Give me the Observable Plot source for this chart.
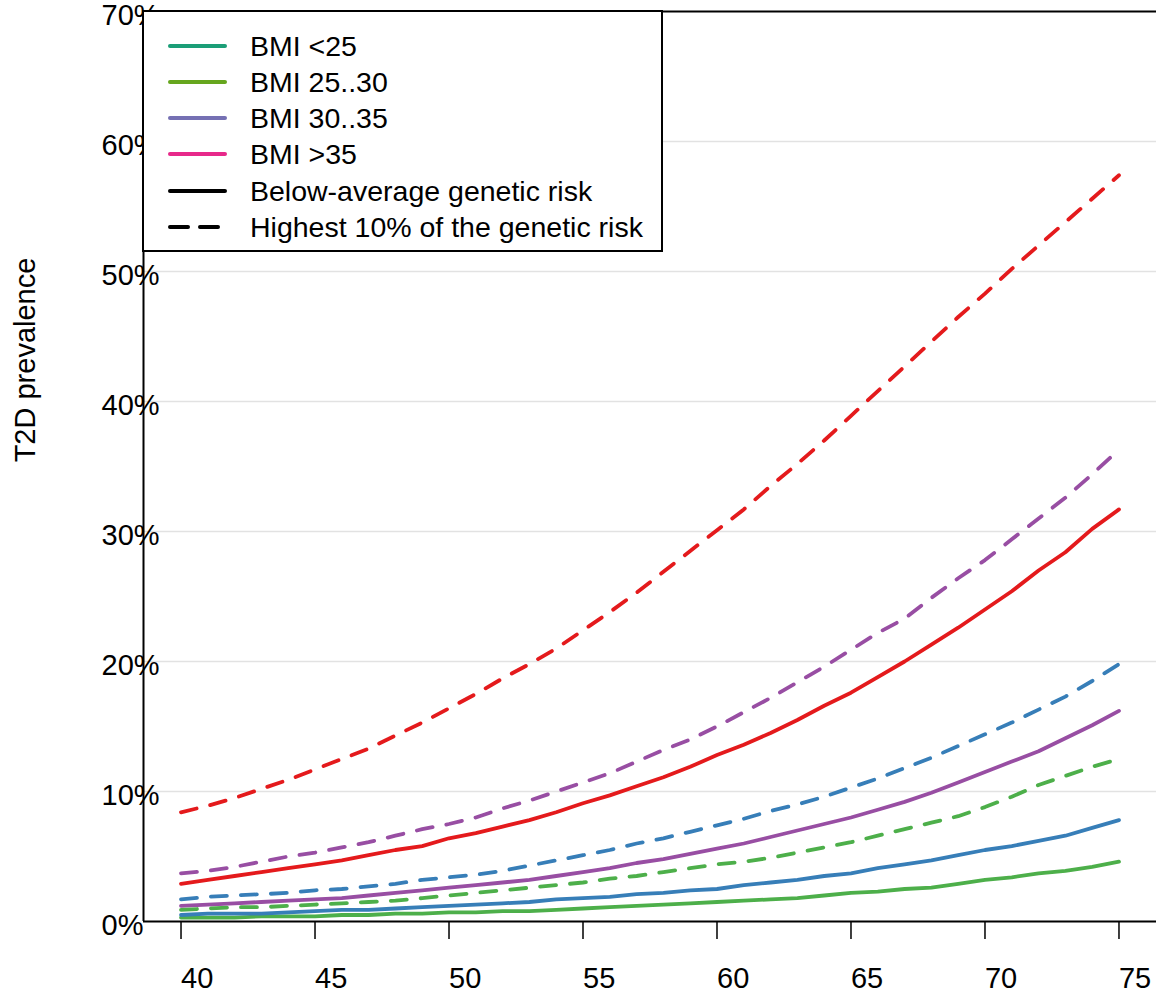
<!DOCTYPE html>
<html><head><meta charset="utf-8">
<script src="https://cdn.jsdelivr.net/npm/d3@7"></script>
<script src="https://cdn.jsdelivr.net/npm/@observablehq/plot@0.6"></script>
<style>
body{margin:0;background:#fff;font-family:"Liberation Sans",Arial,sans-serif;}
#wrap{position:relative;width:1156px;height:998px;overflow:hidden;}
#ytitle{position:absolute;left:25px;top:360px;transform:translate(-50%,-50%) rotate(-90deg);font-size:29px;white-space:nowrap;color:#000;}
#legend{position:absolute;left:142px;top:10px;width:521px;height:242px;border:2px solid #000;background:#fff;box-sizing:border-box;}
.row{position:absolute;left:0;height:36px;width:100%;}
.row svg{position:absolute;left:24px;top:0;}
.row span{position:absolute;left:106px;top:0;line-height:36px;font-size:28.5px;white-space:nowrap;color:#000;}
</style>
</head><body>
<div id="wrap">
  <div id="chart"></div>
  <div id="ytitle">T2D prevalence</div>
  <div id="legend"></div>
</div>
<script>
// ---- data ----
const ages = [40,41,42,43,44,45,46,47,48,49,50,51,52,53,54,55,56,57,58,59,60,61,62,63,64,65,66,67,68,69,70,71,72,73,74,75];
const groups = ["BMI <25","BMI 25..30","BMI 30..35","BMI >35"];
const lineColors = ["#4DAF4A","#377EB8","#984EA3","#E41A1C"];

// Below-average genetic risk (solid)
const lowBmiUnder25 = [0.3,0.3,0.3,0.4,0.4,0.4,0.5,0.5,0.6,0.6,0.7,0.7,0.8,0.8,0.9,1.0,1.1,1.2,1.3,1.4,1.5,1.6,1.7,1.8,2.0,2.2,2.3,2.5,2.6,2.9,3.2,3.4,3.7,3.9,4.2,4.6];
const lowBmi25to30 = [0.5,0.6,0.6,0.6,0.7,0.8,0.9,0.9,1.0,1.1,1.2,1.3,1.4,1.5,1.7,1.8,1.9,2.1,2.2,2.4,2.5,2.8,3.0,3.2,3.5,3.7,4.1,4.4,4.7,5.1,5.5,5.8,6.2,6.6,7.2,7.8];
const lowBmi30to35 = [1.2,1.3,1.4,1.5,1.6,1.7,1.8,2.0,2.2,2.4,2.6,2.8,3.0,3.2,3.5,3.8,4.1,4.5,4.8,5.2,5.6,6.0,6.5,7.0,7.5,8.0,8.6,9.2,9.9,10.7,11.5,12.3,13.1,14.1,15.1,16.2];
const lowBmiOver35 = [2.9,3.2,3.5,3.8,4.1,4.4,4.7,5.1,5.5,5.8,6.4,6.8,7.3,7.8,8.4,9.1,9.7,10.4,11.1,11.9,12.8,13.6,14.5,15.5,16.6,17.6,18.8,20.0,21.3,22.6,24.0,25.4,27.0,28.4,30.2,31.7];

// Highest 10% of the genetic risk (dashed)
const highBmiUnder25 = [0.9,1.0,1.1,1.1,1.2,1.3,1.4,1.5,1.6,1.8,2.0,2.2,2.4,2.6,2.8,3.0,3.3,3.5,3.8,4.1,4.4,4.6,4.9,5.3,5.7,6.1,6.6,7.1,7.6,8.1,8.8,9.6,10.5,11.2,11.9,12.5];
const highBmi25to30 = [1.7,1.9,2.0,2.1,2.2,2.4,2.5,2.7,2.9,3.2,3.4,3.6,3.9,4.3,4.7,5.1,5.5,6.0,6.4,6.9,7.4,7.9,8.5,9.0,9.6,10.3,11.0,11.8,12.6,13.5,14.4,15.3,16.3,17.3,18.5,19.8];
const highBmi30to35 = [3.7,3.9,4.2,4.6,5.0,5.3,5.7,6.1,6.6,7.1,7.5,8.0,8.7,9.3,10.0,10.7,11.4,12.3,13.2,14.0,15.0,16.1,17.2,18.4,19.6,20.9,22.2,23.3,24.9,26.4,27.8,29.4,31.0,32.6,34.4,36.3];
const highBmiOver35 = [8.4,8.9,9.5,10.2,10.9,11.7,12.5,13.3,14.3,15.3,16.4,17.5,18.7,19.8,21.0,22.4,23.8,25.3,26.9,28.5,30.1,31.7,33.5,35.2,37.0,38.9,40.8,42.7,44.6,46.5,48.3,50.2,52.0,53.8,55.6,57.4];

const xTicks = [40,45,50,55,60,65,70,75];
const yTicks = [0,10,20,30,40,50,60,70];
const gridTicks = [10,20,30,40,50,60];

const legendLabels = ["BMI <25","BMI 25..30","BMI 30..35","BMI >35","Below-average genetic risk","Highest 10% of the genetic risk"];
const legendColors = ["#1B9E77","#66A61E","#7570B3","#E7298A","#000000","#000000"];
const legendDashed = [false,false,false,false,false,true];

// ---- build tables ----
const lowSeries = [lowBmiUnder25, lowBmi25to30, lowBmi30to35, lowBmiOver35];
const highSeries = [highBmiUnder25, highBmi25to30, highBmi30to35, highBmiOver35];
const low = [], high = [];
groups.forEach((g, gi) => {
  ages.forEach((a, i) => {
    low.push({age: a, group: g, value: lowSeries[gi][i]});
    high.push({age: a, group: g, value: highSeries[gi][i]});
  });
});

const chart = Plot.plot({
  width: 1156,
  height: 998,
  marginLeft: 143,
  marginRight: 0,
  marginTop: 11,
  marginBottom: 77,
  x: {domain: [38.6, 76.4]},
  y: {domain: [0, 70]},
  color: {domain: groups, range: lineColors},
  style: {fontFamily: "Liberation Sans, Arial, sans-serif", fontSize: "29px", color: "#000", background: "transparent", overflow: "visible"},
  marks: [
    Plot.gridY(gridTicks, {stroke: "#e2e2e2", strokeOpacity: 1, strokeWidth: 1.5}),
    Plot.line(low, {x: "age", y: "value", z: "group", stroke: "group", strokeWidth: 3.8, strokeLinecap: "round", strokeLinejoin: "round"}),
    Plot.line(high, {x: "age", y: "value", z: "group", stroke: "group", strokeWidth: 3.8, strokeDasharray: "16 14", strokeLinecap: "round", strokeLinejoin: "round"}),
    Plot.ruleY([0], {stroke: "#000", strokeWidth: 2}),
    Plot.ruleY([70], {stroke: "#000", strokeWidth: 2}),
    Plot.ruleX([38.6], {stroke: "#000", strokeWidth: 2}),
    Plot.axisX(xTicks, {tickSize: 18, tickPadding: 28, textAnchor: "start", strokeWidth: 1.5, label: null, fontSize: 29}),
    Plot.axisY(yTicks, {tickSize: 0, textAnchor: "start", dx: -33, dy: 4, tickFormat: d => d + "%", label: null, fontSize: 29})
  ]
});
document.getElementById("chart").appendChild(chart);

// ---- legend ----
const leg = document.getElementById("legend");
legendLabels.forEach((lab, i) => {
  const row = document.createElement("div");
  row.className = "row";
  row.style.top = (35.7 + 36.2 * i - 18 - 2) + "px";
  const svg = d3.create("svg").attr("width", 60).attr("height", 36);
  svg.append("line").attr("x1", 2).attr("x2", 57).attr("y1", 18).attr("y2", 18)
    .attr("stroke", legendColors[i]).attr("stroke-width", 4).attr("stroke-linecap", "round")
    .attr("stroke-dasharray", legendDashed[i] ? "18 12" : null);
  row.appendChild(svg.node());
  const sp = document.createElement("span");
  sp.textContent = lab;
  row.appendChild(sp);
  leg.appendChild(row);
});
</script>
</body></html>
